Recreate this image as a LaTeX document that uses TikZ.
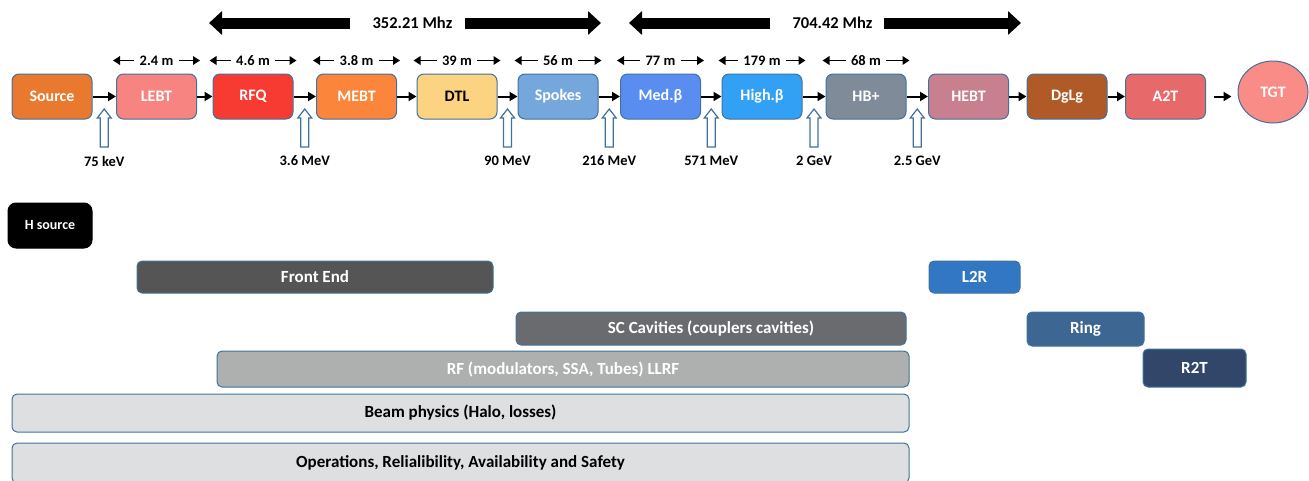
\documentclass[tikz,border=0pt]{standalone}
\usepackage{fontspec}
\setmainfont{Carlito}
\usetikzlibrary{arrows.meta,calc,shapes.geometric}
\definecolor{edge}{HTML}{41719C}
\definecolor{cSource}{HTML}{E8792F}
\definecolor{cLebt}{HTML}{F78480}
\definecolor{cRfq}{HTML}{F83B32}
\definecolor{cMebt}{HTML}{FB853A}
\definecolor{cDtl}{HTML}{FCD380}
\definecolor{cSpk}{HTML}{76A7DC}
\definecolor{cMed}{HTML}{5A8DF0}
\definecolor{cHigh}{HTML}{32A0F4}
\definecolor{cHb}{HTML}{7F8B98}
\definecolor{cHebt}{HTML}{C8808E}
\definecolor{cDg}{HTML}{B05A28}
\definecolor{cAtwo}{HTML}{E8696A}
\definecolor{cTgt}{HTML}{F98C86}
\definecolor{cFe}{HTML}{555555}
\definecolor{cLtr}{HTML}{3177C3}
\definecolor{cSc}{HTML}{6A6B6F}
\definecolor{cRing}{HTML}{3E6693}
\definecolor{cRf}{HTML}{ADB0AE}
\definecolor{cRtt}{HTML}{314669}
\definecolor{cBp}{HTML}{DEDFE1}

\begin{document}
\begin{tikzpicture}[x=1pt,y=-1pt,
	blk/.style={draw=edge, line width=1pt, rounded corners=7pt, minimum width=80pt, minimum height=45pt, inner sep=0pt, text=white, font=\fontsize{16}{18}\selectfont\bfseries},
	bar/.style={draw=edge, line width=1pt, rounded corners=5pt, inner sep=0pt, text=white, font=\fontsize{17}{19}\selectfont\bfseries},
	lab/.style={inner sep=0pt, font=\fontsize{14.5}{16}\selectfont\bfseries},
	freq/.style={inner sep=0pt, font=\fontsize{16.5}{18}\selectfont\bfseries},
	flow/.style={line width=2pt, -{Triangle[length=8pt,width=9pt]}},
	dim/.style={line width=1.8pt, -{Triangle[length=7pt,width=8.5pt]}, shorten >=-3pt},
	big/.style={line width=11pt, -{Triangle[length=13pt,width=23pt]}},
	hollow/.style={draw=edge, fill=white, line width=1.2pt}]
		\path[use as bounding box, clip] (0,0) rectangle (1309,480);
		
		% beam line
		\node[blk, fill=cSource] (src) at (52,96.5) {Source};
		\node[blk, fill=cLebt] (lebt) at (156.5,96.5) {LEBT};
		\node[blk, fill=cRfq] (rfq) at (253,96.5) {RFQ};
		\node[blk, fill=cMebt] (mebt) at (356.5,96.5) {MEBT};
		\node[blk, fill=cDtl, text=black] (dtl) at (457,96.5) {DTL};
		\node[blk, fill=cSpk] (spk) at (558,96.5) {Spokes};
		\node[blk, fill=cMed] (med) at (660.5,96.5) {Med.β};
		\node[blk, fill=cHigh] (high) at (762,96.5) {High.β};
		\node[blk, fill=cHb] (hbp) at (866,96.5) {HB+};
		\node[blk, fill=cHebt] (hebt) at (968.5,96.5) {HEBT};
		\node[blk, fill=cDg] (dglg) at (1067,96.5) {DgLg};
		\node[blk, fill=cAtwo] (atwo) at (1165.5,96.5) {A2T};
		\node[blk, ellipse, sharp corners, fill=cTgt, minimum width=70pt, minimum height=62pt] (tgt) at (1273,92) {TGT};
		
		\foreach \a/\b in {src/lebt, lebt/rfq, rfq/mebt, mebt/dtl, dtl/spk, spk/med, med/high, high/hbp, hbp/hebt, hebt/dglg, dglg/atwo}
			\draw[flow] (\a) -- (\b);
		\draw[flow, shorten <=8pt, shorten >=6pt] (atwo.east) -- (atwo.east -| tgt.west);
		
		% lengths
		\foreach \b/\t in {lebt/2.4 m, rfq/4.6 m, mebt/3.8 m, dtl/39 m, spk/56 m, med/77 m, high/179 m, hbp/68 m}{
			\node[lab, inner xsep=5pt] (len\b) at ($(\b.north)+(0,-13)$) {\t};
			\draw[dim] (len\b.west) -- (len\b.west -| \b.west);
			\draw[dim] (len\b.east) -- (len\b.east -| \b.east);
		}
		
		% energies
		\foreach \a/\b/\e [count=\i] in {src/lebt/75 keV, rfq/mebt/3.6 MeV, dtl/spk/90 MeV, spk/med/216 MeV, med/high/571 MeV, high/hbp/2 GeV, hbp/hebt/2.5 GeV}{
			\coordinate (g\i) at ($(\a.east)!.5!(\b.west)+(0,12.5)$);
			\draw[hollow] (g\i) -- ++(7,9) -- ++(-3,0) -- ++(0,29) -- ++(-8,0) -- ++(0,-29) -- ++(-3,0) -- cycle;
			\node[lab] (en\i) at ($(g\i)+(0,52)$) {\e};
		}
		
		% frequencies
		\node[freq] (fone) at (412.5,23) {352.21 Mhz};
		\node[freq] (ftwo) at (832.5,23) {704.42 Mhz};
		\coordinate (fonel) at (209,23);
		\coordinate (foner) at (601,23);
		\coordinate (ftwol) at (629,23);
		\coordinate (ftwor) at (1021,23);
		\draw[big] ([xshift=-22pt]fone.west) -- (fonel);
		\draw[big] ([xshift=12pt]fone.east) -- (foner);
		\draw[big] ([xshift=-22pt]ftwo.west) -- (ftwol);
		\draw[big] ([xshift=11pt]ftwo.east) -- (ftwor);
		
		% work packages
		\node[bar, fill=black, draw=black, rounded corners=8pt, minimum width=84pt, minimum height=45pt, font=\fontsize{14}{16}\selectfont\bfseries] (hsrc) at (50,225.5) {H source};
		\node[bar, fill=cFe, minimum width=356pt, minimum height=32pt] (fe) at (315,277) {Front End};
		\node[bar, fill=cLtr, minimum width=91pt, minimum height=32pt] (ltr) at (974.5,277) {L2R};
		\node[bar, fill=cSc, minimum width=390pt, minimum height=33pt] (sc) at (711,328.5) {SC Cavities (couplers cavities)};
		\node[bar, fill=cRing, minimum width=117pt, minimum height=34pt] (ring) at (1085.5,329) {Ring};
		\node[bar, fill=cRf, minimum width=692pt, minimum height=36pt] (rf) at (563,369) {RF (modulators, SSA, Tubes) LLRF};
		\node[bar, fill=cRtt, minimum width=103pt, minimum height=38pt] (rtt) at (1194.5,368) {R2T};
		\node[bar, fill=cBp, text=black, minimum width=897pt, minimum height=38pt] (bp) at (460.5,413) {Beam physics (Halo, losses)};
		\node[bar, fill=cBp, text=black, minimum width=897pt, minimum height=40pt] (ops) at (460.5,463) {Operations, Relialibility, Availability and Safety};
	\end{tikzpicture}
\end{document}
